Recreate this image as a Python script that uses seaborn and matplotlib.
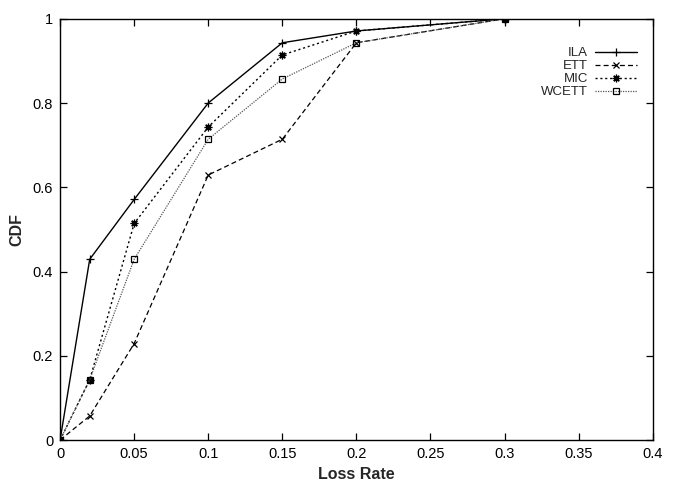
import pandas as pd
import numpy as np
import matplotlib
matplotlib.use('Agg')
import matplotlib.pyplot as plt
import seaborn as sns

# loss rate values and CDF of each metric
loss_rate = [0, 0.02, 0.05, 0.1, 0.15, 0.2, 0.3]
ila = [0, 0.429, 0.571, 0.800, 0.943, 0.971, 1.0]
ett = [0, 0.057, 0.229, 0.629, 0.714, 0.943, 1.0]
mic = [0, 0.143, 0.514, 0.743, 0.914, 0.971, 1.0]
wcett = [0, 0.143, 0.429, 0.714, 0.857, 0.943, 1.0]

x_ticks = [0, 0.05, 0.1, 0.15, 0.2, 0.25, 0.3, 0.35, 0.4]
y_ticks = [0, 0.2, 0.4, 0.6, 0.8, 1.0]

sns.set_style('ticks')
plt.rcParams['font.family'] = ['Liberation Sans', 'DejaVu Sans']

fig = plt.figure(figsize=(6.75, 4.87), dpi=100)
ax = fig.add_axes([0.089, 0.0965, 0.878, 0.865])

series = [
    ('ILA', ila, '-', '+', 'black', 1.0, 6),
    ('ETT', ett, (0, (4, 2.5)), 'x', 'black', 0.9, 5),
    ('MIC', mic, (0, (1.5, 2)), (8, 2, 0), 'black', 1.0, 5.5),
    ('WCETT', wcett, (0, (1, 1)), 's', '#555555', 0.9, 4.5),
]

for name, vals, ls, mk, col, lw, ms in series:
    sns.lineplot(x=loss_rate, y=vals, ax=ax, label=name, color=col,
                 linestyle=ls, linewidth=lw, marker=mk, markersize=ms,
                 markerfacecolor='none', markeredgecolor='black',
                 markeredgewidth=0.9)

ax.set_xlim(0, 0.4)
ax.set_ylim(0, 1)
ax.set_xticks(x_ticks)
ax.set_yticks(y_ticks)
ax.set_xticklabels(['%g' % t for t in x_ticks])
ax.set_yticklabels(['%g' % t for t in y_ticks])
ax.tick_params(direction='in', length=5, width=0.9, top=True, right=True,
               labelsize=10.5, colors='black', pad=5)
for s in ax.spines.values():
    s.set_visible(True)
    s.set_linewidth(1.0)
    s.set_color('black')

ax.set_xlabel('Loss Rate', fontsize=11.5, fontweight='bold', labelpad=4)
ax.set_ylabel('CDF', fontsize=11.5, fontweight='bold', labelpad=6)

ax.legend(loc='upper right', bbox_to_anchor=(0.982, 0.945), frameon=False,
          markerfirst=False, fontsize=9.5, handlelength=3.2,
          labelspacing=0.05, handletextpad=0.5, borderaxespad=0)

fig.savefig('out.png', dpi=100)
